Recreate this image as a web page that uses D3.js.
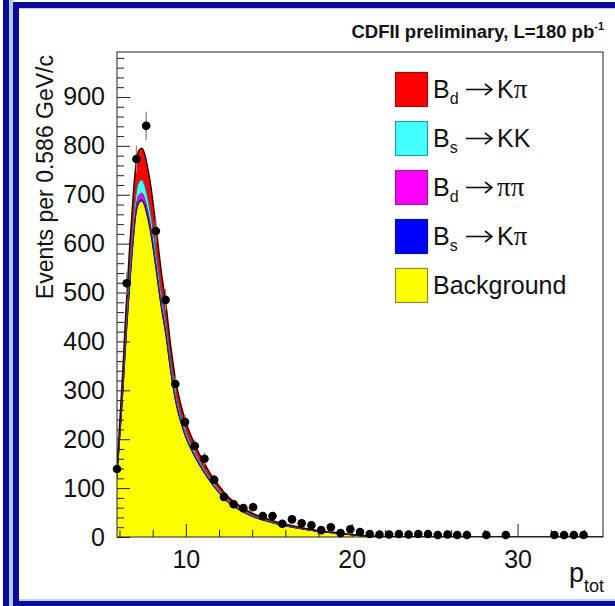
<!DOCTYPE html>
<html>
<head>
<meta charset="utf-8">
<script src="https://cdn.jsdelivr.net/npm/d3@7"></script>
<style>
	body { margin: 0; background: #fff; }
	svg { display: block; }
	text { font-family: "Liberation Sans", Arial, Helvetica, sans-serif; }
</style>
</head>
<body>
<svg id="chart"></svg>
<script>
// histogram: 50 bins of 0.586 GeV/c, empty bins are null
const binLow = 5.557;
const binWidth = 0.586;
const counts = [139, 519, 773, 841, 626, 485, 313, 235, 186, 160,
	117, 82, 67, 59, 61, 43, 43, 27, 36, 28,
	24, 14, 20, 8, 16, 10, 6, 5, 5, 6,
	5, 6, 6, 4, 5, 4, 4, null, 4, null,
	4, null, null, null, null, 4, 4, 4, 4, null];

// fit components, sampled along p_tot
const fitX = [5.85, 6.0, 6.2, 6.4, 6.6, 6.8, 7.0, 7.2, 7.35, 7.5,
	7.7, 7.9, 8.1, 8.3, 8.5, 8.8, 9.1, 9.4, 9.7, 10.0,
	10.3, 10.6, 11.0, 11.5, 12.0, 12.5, 13.0, 13.5, 14.0, 15.0,
	16.0, 17.0, 18.0, 19.0, 20.0, 21.0, 22.0, 24.0, 28.0, 35.15];
const background = [121, 195, 293, 406, 505, 593, 661, 684, 687, 678,
	652, 617, 572, 522, 473, 411, 335, 274, 234, 203,
	180, 160, 137, 111.5, 90, 72, 60, 50, 42, 31,
	22.5, 16.4, 11.2, 7.9, 4.3, 1.7, 0.9, 0.3, 0.1, 0];
const bsKpi = [0.7, 1.1, 1.7, 2.4, 3, 3.4, 3.8, 4, 4, 4,
	3.8, 3.6, 3.3, 3, 2.7, 2.4, 1.9, 1.6, 1.4, 1.2,
	1, 0.9, 0.8, 0.6, 0.5, 0.4, 0.4, 0.3, 0.2, 0.2,
	0.1, 0.1, 0.1, 0, 0, 0, 0, 0, 0, 0];
const bdPipi = [2, 3, 5, 7, 9, 10, 11, 12, 12, 12,
	11, 11, 10, 9, 8, 7, 6, 5, 4, 3.5,
	3, 2.8, 2.4, 1.9, 1.6, 1.3, 1, 0.9, 0.7, 0.5,
	0.4, 0.3, 0.2, 0.1, 0.1, 0, 0, 0, 0, 0];
const bsKK = [5, 8, 12, 16, 20, 23, 26, 27, 27, 27,
	26, 24, 23, 21, 19, 16, 13, 11, 9, 8,
	7, 6, 5, 4, 4, 3, 2.4, 2, 1.7, 1.2,
	0.9, 0.6, 0.4, 0.3, 0.2, 0.1, 0, 0, 0, 0];
const bdKpi = [11, 18, 28, 39, 48, 56, 63, 65, 65, 64,
	62, 59, 54, 50, 45, 39, 32, 26, 22, 19,
	17, 15, 13, 10, 9, 7, 6, 5, 4, 3,
	2.1, 1.6, 1.1, 0.7, 0.4, 0.2, 0.1, 0, 0, 0];

const yMajor = [0, 100, 200, 300, 400, 500, 600, 700, 800, 900];
const xMajor = [10, 20, 30];

const legendColors = ["#ff0000", "#44ffff", "#ff00ff", "#0000ff", "#ffff00"];
const legendStrokes = ["#8a1010", "#2a9a9a", "#8a208a", "#10108a", "#8a8a30"];
const legendMain = ["B", "B", "B", "B", "Background"];
const legendSub = ["d", "s", "d", "s", ""];
const legendDecay = ["K\u03c0", "KK", "\u03c0\u03c0", "K\u03c0", ""];

function drawChart() {
	const width = 615;
	const height = 606;
	const left = 117, right = 603, top = 52, bottom = 537;
	const blue = "#0a0a9c";

	const svg = d3.select("#chart")
		.attr("width", width)
		.attr("height", height);

	// slide frame
	svg.append("rect").attr("x", 3).attr("y", 0).attr("width", 6).attr("height", height).attr("fill", blue);
	svg.append("rect").attr("x", 9).attr("y", 0).attr("width", 4).attr("height", height).attr("fill", "#b4ccd8");
	svg.append("rect").attr("x", 13).attr("y", 2).attr("width", 6).attr("height", height).attr("fill", blue);
	svg.append("rect").attr("x", 13).attr("y", 2).attr("width", width - 13).attr("height", 6).attr("fill", blue);
	svg.append("rect").attr("x", 19).attr("y", 8).attr("width", width - 19).attr("height", 1).attr("fill", "#c4d4e4");
	svg.append("rect").attr("x", 13).attr("y", 601).attr("width", width - 13).attr("height", 5).attr("fill", blue);
	svg.append("rect").attr("x", 19).attr("y", 599).attr("width", width - 19).attr("height", 2).attr("fill", "#c4d4e4");

	const x = d3.scaleLinear().domain([5.85, 35.15]).range([left, right]);
	const y = d3.scaleLinear().domain([0, 992]).range([bottom, top]);

	svg.append("defs").append("clipPath").attr("id", "plotClip")
		.append("rect").attr("x", left).attr("y", top).attr("width", right - left).attr("height", bottom - top);

	// stacked fit
	const keys = ["bg", "bsKpi", "bdPipi", "bsKK", "bdKpi"];
	const fills = ["#ffff00", "#0000ff", "#ff00ff", "#44ffff", "#ff0000"];
	const lines = ["#222222", "#10108a", "#7a107a", "#1a7a7a", "#3a0000"];
	const table = fitX.map((v, i) => ({
		x: v, bg: background[i], bsKpi: bsKpi[i], bdPipi: bdPipi[i], bsKK: bsKK[i], bdKpi: bdKpi[i]
	}));
	const stacked = d3.stack().keys(keys)(table);

	const area = d3.area()
		.x(d => x(d.data.x))
		.y0(d => y(d[0]))
		.y1(d => y(d[1]))
		.curve(d3.curveMonotoneX);
	const edge = d3.line()
		.x(d => x(d.data.x))
		.y(d => y(d[1]))
		.curve(d3.curveMonotoneX);

	const fit = svg.append("g").attr("clip-path", "url(#plotClip)");
	fit.selectAll("path.area")
		.data(stacked)
		.enter()
		.append("path")
			.attr("class", "area")
			.attr("d", area)
			.attr("fill", (d, i) => fills[i]);
	fit.selectAll("path.edge")
		.data(stacked)
		.enter()
		.append("path")
			.attr("class", "edge")
			.attr("d", edge)
			.attr("fill", "none")
			.attr("stroke", (d, i) => lines[i])
			.attr("stroke-width", (d, i) => i === 4 ? 1.5 : 1);

	// axes, ticks pointing inward
	const yAxis = d3.axisLeft(y)
		.tickValues(yMajor)
		.tickSizeInner(-13)
		.tickSizeOuter(0)
		.tickPadding(12)
		.tickFormat(d3.format("d"));
	const yMinor = d3.axisLeft(y)
		.tickValues(d3.range(20, 992, 20).filter(v => v % 100 !== 0))
		.tickSizeInner(-7)
		.tickSizeOuter(0)
		.tickFormat("");
	const xAxis = d3.axisBottom(x)
		.tickValues(xMajor)
		.tickSizeInner(-13)
		.tickSizeOuter(0)
		.tickPadding(13)
		.tickFormat(d3.format("d"));
	const xMinor = d3.axisBottom(x)
		.tickValues(d3.range(6, 35.1, 2).filter(v => v % 10 !== 0))
		.tickSizeInner(-7)
		.tickSizeOuter(0)
		.tickFormat("");

	[[yAxis, `translate(${left},0)`], [yMinor, `translate(${left},0)`],
	 [xAxis, `translate(0,${bottom})`], [xMinor, `translate(0,${bottom})`]].forEach(([ax, tr]) => {
		const g = svg.append("g").attr("transform", tr).call(ax);
		g.select(".domain").remove();
		g.selectAll("line").attr("stroke", "#222");
		g.selectAll("text")
			.attr("fill", "#111")
			.style("font-size", "25px")
			.style("font-family", "'Liberation Sans', Arial, sans-serif");
	});

	svg.append("rect")
		.attr("x", left).attr("y", top)
		.attr("width", right - left).attr("height", bottom - top)
		.attr("fill", "none")
		.attr("stroke", "#222")
		.attr("stroke-width", 1);

	// data points with sqrt(N) error bars
	const points = counts
		.map((c, i) => ({ x: binLow + binWidth * (i + 0.5), n: c }))
		.filter(d => d.n !== null);

	svg.selectAll("line.err")
		.data(points)
		.enter()
		.append("line")
			.attr("class", "err")
			.attr("x1", d => x(d.x))
			.attr("x2", d => x(d.x))
			.attr("y1", d => y(d.n - Math.sqrt(d.n)))
			.attr("y2", d => y(d.n + Math.sqrt(d.n)))
			.attr("stroke", "#888")
			.attr("stroke-width", 1.3);

	svg.selectAll("circle.dot")
		.data(points)
		.enter()
		.append("circle")
			.attr("class", "dot")
			.attr("cx", d => x(d.x))
			.attr("cy", d => y(d.n))
			.attr("r", 4.3)
			.attr("fill", "#000");

	// legend
	const legend = svg.append("g").attr("transform", "translate(395,72)");
	const rows = legend.selectAll("g")
		.data(legendColors)
		.enter()
		.append("g")
			.attr("transform", (d, i) => `translate(0,${i * 49})`);
	rows.append("rect")
		.attr("x", 0.5).attr("y", 0.5)
		.attr("width", 32).attr("height", 34)
		.attr("fill", d => d)
		.attr("stroke", (d, i) => legendStrokes[i])
		.attr("stroke-width", 1.2);
	rows.each(function(d, i) {
		const g = d3.select(this);
		const t = g.append("text")
			.attr("x", 38)
			.attr("y", 26)
			.attr("fill", "#111")
			.style("font-size", "25px");
		t.append("tspan").text(legendMain[i]);
		if (!legendSub[i]) return;
		t.append("tspan").attr("dy", 6).style("font-size", "16px").text(legendSub[i]);
		// long thin arrow
		g.append("line")
			.attr("x1", 71).attr("x2", 96)
			.attr("y1", 17.5).attr("y2", 17.5)
			.attr("stroke", "#111").attr("stroke-width", 1.6);
		g.append("path")
			.attr("d", "M90,12 L97,17.5 L90,23")
			.attr("fill", "none")
			.attr("stroke", "#111").attr("stroke-width", 1.6);
		const t2 = g.append("text")
			.attr("x", 102)
			.attr("y", 26)
			.attr("fill", "#111")
			.style("font-size", "25px");
		for (const ch of legendDecay[i]) {
			const s = t2.append("tspan").text(ch);
			if (ch === "\u03c0") s.style("font-family", "'Liberation Serif', 'DejaVu Serif', serif").style("font-size", "27px");
		}
	});

	// title
	const title = svg.append("text")
		.attr("x", 604)
		.attr("y", 38)
		.attr("text-anchor", "end")
		.attr("fill", "#111")
		.style("font-size", "18.5px")
		.style("font-weight", "bold");
	title.append("tspan").text("CDFII preliminary, L=180 pb");
	title.append("tspan").attr("dy", -8).style("font-size", "11px").text("-1");

	// axis titles
	svg.append("text")
		.attr("transform", "translate(53,55) rotate(-90)")
		.attr("text-anchor", "end")
		.attr("fill", "#111")
		.style("font-size", "23px")
		.text("Events per 0.586 GeV/c");

	const xt = svg.append("text")
		.attr("x", 604)
		.attr("y", 582)
		.attr("text-anchor", "end")
		.attr("fill", "#111")
		.style("font-size", "27px");
	xt.append("tspan").text("p");
	xt.append("tspan").attr("dy", 10).style("font-size", "18px").text("tot");
}

document.addEventListener("DOMContentLoaded", drawChart);
</script>
</body>
</html>
